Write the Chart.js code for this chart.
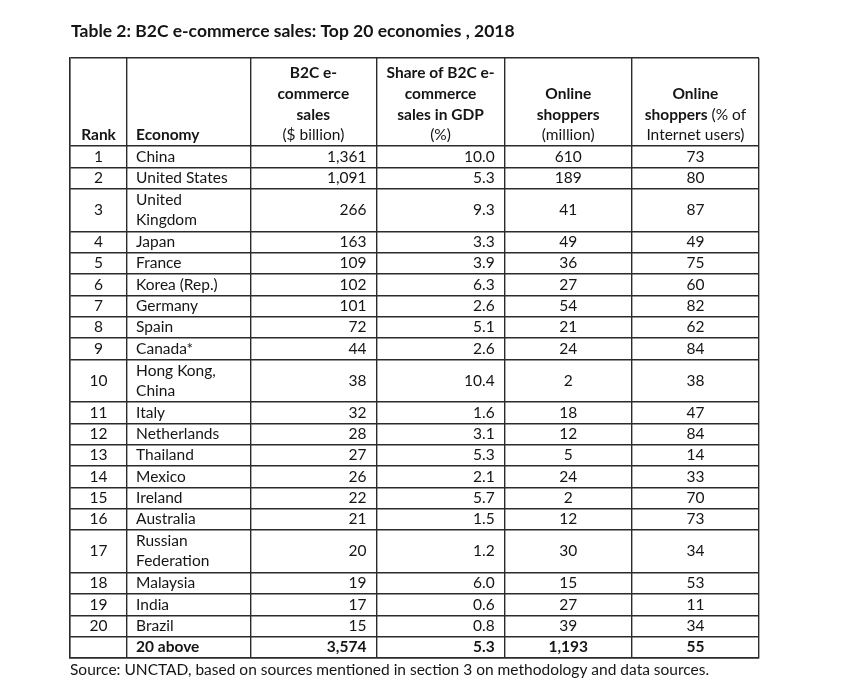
<!DOCTYPE html>
<html>
<head>
<meta charset="utf-8">
<script src="https://cdn.jsdelivr.net/npm/chart.js@4.4.1/dist/chart.umd.min.js"></script>
<style>
  html, body { margin: 0; padding: 0; background: #fff; }
  #wrap { position: relative; width: 867px; height: 691px; }
</style>
</head>
<body>
<div id="wrap"><canvas id="tableChart"></canvas></div>
<script>
// ---- data ----
const ranks = [1, 2, 3, 4, 5, 6, 7, 8, 9, 10, 11, 12, 13, 14, 15, 16, 17, 18, 19, 20];
const economies = [
  ["China"], ["United States"], ["United", "Kingdom"], ["Japan"], ["France"],
  ["Korea (Rep.)"], ["Germany"], ["Spain"], ["Canada*"], ["Hong Kong,", "China"],
  ["Italy"], ["Netherlands"], ["Thailand"], ["Mexico"], ["Ireland"],
  ["Australia"], ["Russian", "Federation"], ["Malaysia"], ["India"], ["Brazil"]
];
const salesBillion = [1361, 1091, 266, 163, 109, 102, 101, 72, 44, 38, 32, 28, 27, 26, 22, 21, 20, 19, 17, 15];
const shareOfGdp = [10.0, 5.3, 9.3, 3.3, 3.9, 6.3, 2.6, 5.1, 2.6, 10.4, 1.6, 3.1, 5.3, 2.1, 5.7, 1.5, 1.2, 6.0, 0.6, 0.8];
const shoppersMillion = [610, 189, 41, 49, 36, 27, 54, 21, 24, 2, 18, 12, 5, 24, 2, 12, 30, 15, 27, 39];
const shoppersPct = [73, 80, 87, 49, 75, 60, 82, 62, 84, 38, 47, 84, 14, 33, 70, 73, 34, 53, 11, 34];

const totalLabel = "20 above";
const totalSales = 3574;
const totalShare = 5.3;
const totalShoppers = 1193;
const totalPct = 55;

// header text, lines from top, each line = [text, bold] pieces
const headers = [
  [[["Rank", true]]],
  [[["Economy", true]]],
  [[["B2C e-", true]], [["commerce", true]], [["sales", true]], [["($ billion)", false]]],
  [[["Share of B2C e-", true]], [["commerce", true]], [["sales in GDP", true]], [["(%)", false]]],
  [[["Online", true]], [["shoppers", true]], [["(million)", false]]],
  [[["Online", true]], [["shoppers", true], [" (% of", false]], [["Internet users)", false]]]
];

const titleText = "Table 2: B2C e-commerce sales: Top 20 economies , 2018";
const sourceText = "Source: UNCTAD, based on sources mentioned in section 3 on methodology and data sources.";

// ---- layout ----
const colWidths = [57, 123, 126, 128, 127, 127];
const colAlign = ["center", "left", "right", "right", "center", "center"];
const headerAlign = ["center", "left", "center", "center", "center", "center"];
const headerUnits = 4.13;
const headerLineUnits = 0.97;
const lineUnits = 0.94;
const FONT = "Lato, 'Open Sans', sans-serif";
const SIZE = 15.5;
const INK = "#151515";

const colEdges = [0];
colWidths.forEach(w => colEdges.push(colEdges[colEdges.length - 1] + w));

// row edges in line units: header, 20 rows (1 unit per text line), total row
const rowEdges = [0, headerUnits];
economies.forEach(e => rowEdges.push(rowEdges[rowEdges.length - 1] + e.length));
rowEdges.push(rowEdges[rowEdges.length - 1] + 1);

const fmtInt = v => v.toLocaleString("en-US");
const fmt1 = v => v.toFixed(1);

function cellText(ctx, x, y, col, align, pieces) {
  const sx = x.getPixelForValue(colEdges[col]);
  const ex = x.getPixelForValue(colEdges[col + 1]);
  let total = 0;
  pieces.forEach(p => {
    ctx.font = (p[1] ? "bold " : "") + SIZE + "px " + FONT;
    total += ctx.measureText(p[0]).width;
  });
  let px;
  if (align === "left") px = sx + 9;
  else if (align === "right") px = ex - 10 - total;
  else px = (sx + ex) / 2 - total / 2;
  pieces.forEach(p => {
    ctx.font = (p[1] ? "bold " : "") + SIZE + "px " + FONT;
    ctx.fillText(p[0], px, y);
    px += ctx.measureText(p[0]).width;
  });
}

const tableText = {
  id: "tableText",
  afterDraw(chart) {
    const ctx = chart.ctx;
    const x = chart.scales.x, y = chart.scales.y;
    ctx.save();
    ctx.fillStyle = INK;
    ctx.textAlign = "left";
    ctx.textBaseline = "middle";

    // title and source note
    ctx.font = "bold 17.5px " + FONT;
    ctx.fillText(titleText, chart.chartArea.left + 1, 31);
    ctx.font = SIZE + "px " + FONT;
    ctx.fillText(sourceText, chart.chartArea.left, chart.chartArea.bottom + 12);

    // header
    headers.forEach((lines, c) => {
      lines.forEach((line, i) => {
        const fromBottom = lines.length - 1 - i;
        const cy = y.getPixelForValue(headerUnits - 0.5 - fromBottom * headerLineUnits);
        cellText(ctx, x, cy, c, headerAlign[c], line);
      });
    });

    // body rows
    economies.forEach((names, r) => {
      const top = rowEdges[r + 1], bottom = rowEdges[r + 2];
      const mid = (top + bottom) / 2;
      const cy = y.getPixelForValue(mid);
      cellText(ctx, x, cy, 0, colAlign[0], [[String(ranks[r]), false]]);
      names.forEach((n, i) => {
        const ly = y.getPixelForValue(mid + (i - (names.length - 1) / 2) * lineUnits);
        cellText(ctx, x, ly, 1, colAlign[1], [[n, false]]);
      });
      cellText(ctx, x, cy, 2, colAlign[2], [[fmtInt(salesBillion[r]), false]]);
      cellText(ctx, x, cy, 3, colAlign[3], [[fmt1(shareOfGdp[r]), false]]);
      cellText(ctx, x, cy, 4, colAlign[4], [[fmtInt(shoppersMillion[r]), false]]);
      cellText(ctx, x, cy, 5, colAlign[5], [[fmtInt(shoppersPct[r]), false]]);
    });

    // total row
    const n = rowEdges.length;
    const ty = y.getPixelForValue((rowEdges[n - 2] + rowEdges[n - 1]) / 2);
    cellText(ctx, x, ty, 1, colAlign[1], [[totalLabel, true]]);
    cellText(ctx, x, ty, 2, colAlign[2], [[fmtInt(totalSales), true]]);
    cellText(ctx, x, ty, 3, colAlign[3], [[fmt1(totalShare), true]]);
    cellText(ctx, x, ty, 4, colAlign[4], [[fmtInt(totalShoppers), true]]);
    cellText(ctx, x, ty, 5, colAlign[5], [[fmtInt(totalPct), true]]);
    ctx.restore();
  }
};

const gridStyle = { color: "#2b2b2b", lineWidth: 1.4, drawTicks: false };

new Chart(document.getElementById("tableChart"), {
  type: "scatter",
  data: { datasets: [] },
  options: {
    responsive: true,
    maintainAspectRatio: false,
    animation: false,
    layout: { padding: { left: 70, top: 58, right: 108, bottom: 33 } },
    plugins: { legend: { display: false }, tooltip: { enabled: false } },
    scales: {
      x: {
        type: "linear",
        min: 0,
        max: colEdges[colEdges.length - 1],
        grid: gridStyle,
        border: { display: true, color: "#2b2b2b", width: 1.4 },
        ticks: { display: false },
        afterBuildTicks: s => { s.ticks = colEdges.map(v => ({ value: v })); }
      },
      y: {
        type: "linear",
        reverse: true,
        min: 0,
        max: rowEdges[rowEdges.length - 1],
        grid: gridStyle,
        border: { display: true, color: "#2b2b2b", width: 1.4 },
        ticks: { display: false },
        afterBuildTicks: s => { s.ticks = rowEdges.map(v => ({ value: v })); }
      }
    }
  },
  plugins: [tableText]
});
</script>
</body>
</html>
